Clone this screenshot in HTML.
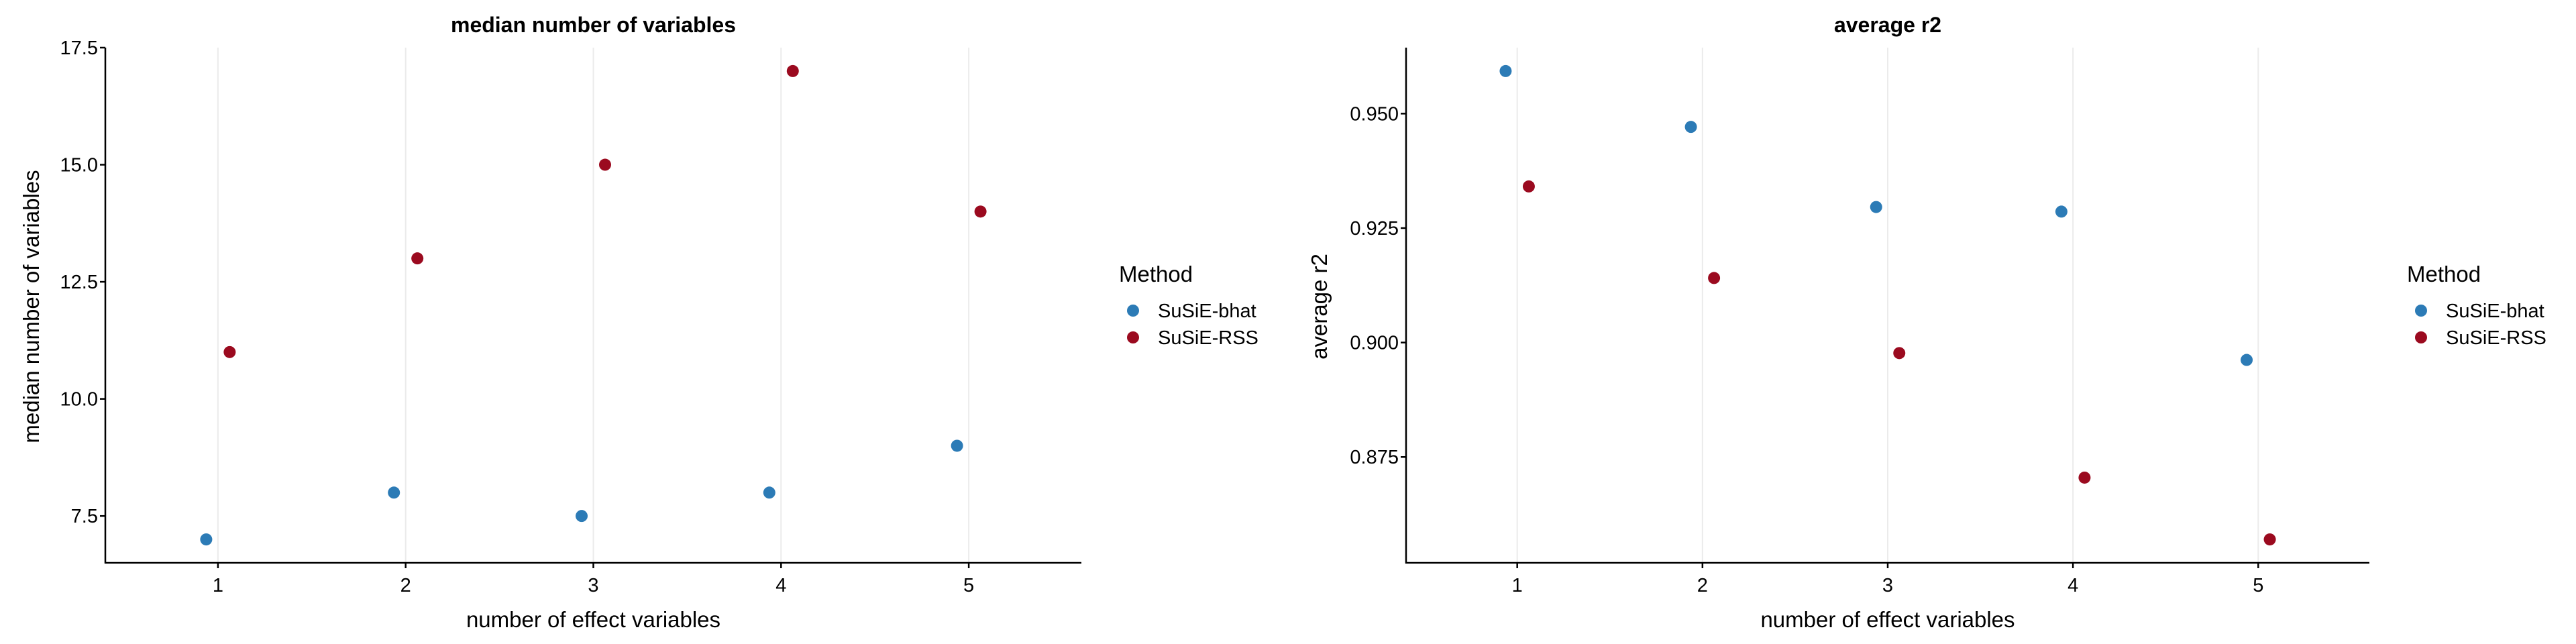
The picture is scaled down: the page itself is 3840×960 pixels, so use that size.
<!DOCTYPE html>
<html><head><meta charset="utf-8"><style>
html,body{margin:0;padding:0;background:#fff;}
svg{display:block;font-family:"Liberation Sans",Arial,sans-serif;}
</style></head><body>
<svg id="chart" width="3840" height="960" viewBox="0 0 3840 960"></svg>
<script>
const categories = [1, 2, 3, 4, 5];
const seriesNames = ["SuSiE-bhat", "SuSiE-RSS"];
const medianBhat = [7, 8, 7.5, 8, 9];
const medianRss = [11, 13, 15, 17, 14];
const r2Bhat = [0.9593, 0.9471, 0.9296, 0.9286, 0.8962];
const r2Rss = [0.9341, 0.9141, 0.8977, 0.8705, 0.8570];
const medianTicks = [7.5, 10.0, 12.5, 15.0, 17.5];
const medianTickLabels = ["7.5", "10.0", "12.5", "15.0", "17.5"];
const r2Ticks = [0.875, 0.900, 0.925, 0.950];
const r2TickLabels = ["0.875", "0.900", "0.925", "0.950"];

const NS = "http://www.w3.org/2000/svg";
const svg = document.getElementById("chart");
const colors = ["#2c7bb6", "#9b0a1f"];
function mk(tag, attrs, parent, text) {
  const e = document.createElementNS(NS, tag);
  for (const k in attrs) e.setAttribute(k, attrs[k]);
  if (text !== undefined) e.textContent = text;
  (parent || svg).appendChild(e);
  return e;
}
function expandRange(vals) {
  const mn = Math.min(...vals), mx = Math.max(...vals);
  const pad = (mx - mn) * 0.05;
  return [mn - pad, mx + pad];
}
function panel(cfg) {
  const g = mk("g", {});
  
  
  const L = cfg.left, R = cfg.right, T = 71, B = 839;
  const xs = v => L + (v - 0.4) / 5.2 * (R - L);
  const [ymin, ymax] = expandRange(cfg.a.concat(cfg.b));
  const ys = v => B - (v - ymin) / (ymax - ymin) * (B - T);
  categories.forEach(c => {
    const l = mk("line", {x1: xs(c), x2: xs(c), y1: T, y2: B, stroke: "#ebebeb", "stroke-width": 2}, g);
    
    
  });
  const ya = mk("line", {x1: L, x2: L, y1: T, y2: B + 1, stroke: "#000", "stroke-width": 2.5}, g);
  
  
  const xa = mk("line", {x1: L - 1, x2: R, y1: B, y2: B, stroke: "#000", "stroke-width": 2.5}, g);
  
  
  categories.forEach(c => {
    mk("line", {x1: xs(c), x2: xs(c), y1: B, y2: B + 8, stroke: "#000", "stroke-width": 2.5}, g);
    const t = mk("text", {x: xs(c), y: 882, "text-anchor": "middle", "font-size": 29, fill: "#000"}, g, String(c));
    
    
  });
  cfg.ticks.forEach((v, i) => {
    mk("line", {x1: L - 8, x2: L, y1: ys(v), y2: ys(v), stroke: "#000", "stroke-width": 2.5}, g);
    const t = mk("text", {x: L - 11, y: ys(v) + 10, "text-anchor": "end", "font-size": 29, fill: "#000"}, g, cfg.tickLabels[i]);
    
    
  });
  [cfg.a, cfg.b].forEach((arr, si) => {
    const off = si === 0 ? -0.0625 : 0.0625;
    arr.forEach((v, i) => {
      const p = mk("circle", {cx: xs(categories[i] + off), cy: ys(v), r: 9, fill: colors[si]}, g);
      
      
    });
  });
  const tt = mk("text", {x: (L + R) / 2, y: 48, "text-anchor": "middle", "font-size": 32, "font-weight": "bold"}, g, cfg.title);
  
  
  const xt = mk("text", {x: (L + R) / 2, y: 935, "text-anchor": "middle", "font-size": 33}, g, "number of effect variables");
  
  
  const yt = mk("text", {x: 0, y: 0, "text-anchor": "middle", "font-size": 33, transform: `translate(${cfg.ytx},457) rotate(-90)`}, g, cfg.ytitle);
  
  
  const lx = R + 56;
  const lg = mk("g", {}, g);
  
  
  const lt = mk("text", {x: lx, y: 420, "font-size": 33}, lg, "Method");
  
  
  seriesNames.forEach((s, i) => {
    const cy = 463 + i * 40;
    const d = mk("circle", {cx: lx + 21, cy: cy, r: 9, fill: colors[i]}, lg);
    
    
    const tx = mk("text", {x: lx + 58, y: cy + 10, "font-size": 29}, lg, s);
    
    
  });
}
panel({name: "median-panel", left: 157, right: 1612, a: medianBhat, b: medianRss,
  ticks: medianTicks, tickLabels: medianTickLabels, title: "median number of variables",
  ytitle: "median number of variables", ytx: 58});
panel({name: "r2-panel", left: 2096, right: 3532, a: r2Bhat, b: r2Rss,
  ticks: r2Ticks, tickLabels: r2TickLabels, title: "average r2",
  ytitle: "average r2", ytx: 1978});
</script>
</body></html>
